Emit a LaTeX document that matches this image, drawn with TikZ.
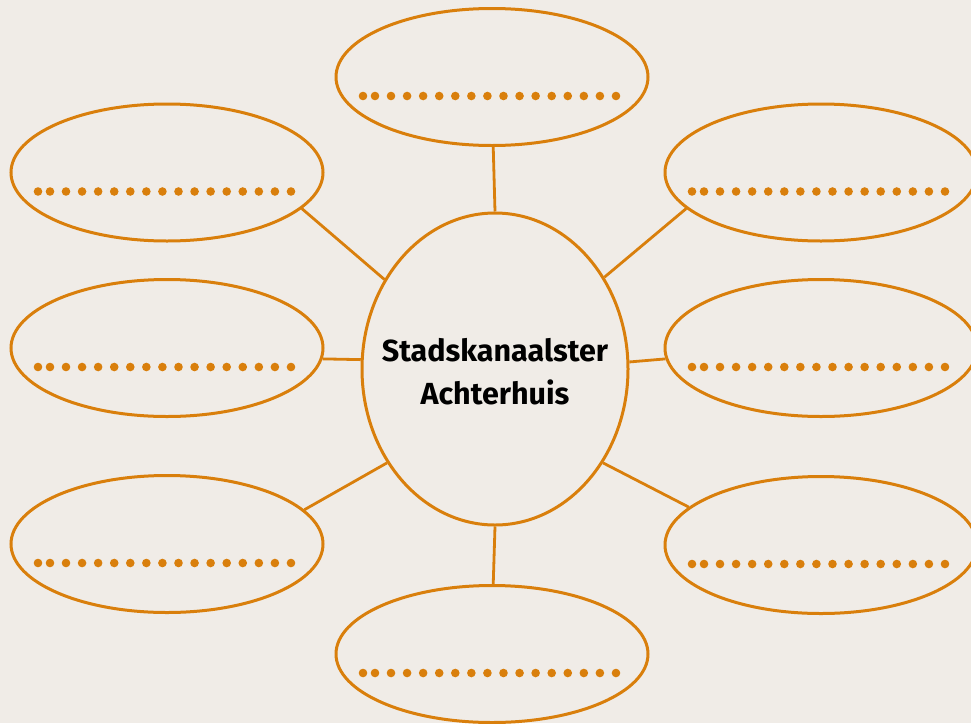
\documentclass[tikz,border=0pt]{standalone}
\usepackage{fontspec}
\setmainfont{Fira Sans}
\usetikzlibrary{shapes.geometric,calc}
\definecolor{bg}{RGB}{240,236,231}
\definecolor{orng}{RGB}{217,127,12}
\newcommand\dotrow[1]{%
  \fill[orng] ($(#1.center)+(-129,19)$) circle[radius=4.3pt];
  \fill[orng] ($(#1.center)+(-117,19)$) circle[radius=4.3pt];
  \foreach \k in {0,...,14}{\fill[orng] ($(#1.center)+(-101+16.07*\k,19)$) circle[radius=4.3pt];}%
}
\begin{document}
\begin{tikzpicture}[x=1pt,y=-1pt,
  bubble/.style={ellipse, draw=orng, line width=3pt, minimum width=312pt, minimum height=137pt, inner sep=0pt},
  hub/.style={ellipse, draw=orng, line width=3pt, minimum width=266pt, minimum height=312pt, inner sep=0pt},
  hubtext/.style={align=center, inner sep=0pt, font=\bfseries\fontsize{30.5}{43}\selectfont},
  link/.style={draw=orng, line width=2.8pt}]
\fill[bg] (0,0) rectangle (971,723);
\useasboundingbox (0,0) rectangle (971,723);

\node[hub] (c) at (495,369) {};
\node[hubtext] (ct) at (495,372) {Stadskanaalster\\Achterhuis};

\node[bubble] (t)  at (492,77) {};
\node[bubble] (b)  at (492,654) {};
\node[bubble] (tl) at (167,172.5) {};
\node[bubble] (ml) at (167,348) {};
\node[bubble] (bl) at (167,544) {};
\node[bubble] (tr) at (821,172.5) {};
\node[bubble] (mr) at (821,348) {};
\node[bubble] (br) at (821,545) {};

\dotrow{t}\dotrow{b}\dotrow{tl}\dotrow{ml}\dotrow{bl}\dotrow{tr}\dotrow{mr}\dotrow{br}

\draw[link] (t.-89.5) -- (c.90);
\draw[link] (b.89.5) -- (c.-90);
\draw[link] (tl.-15.9) -- (c.141);
\draw[link] (tr.-165.2) -- (c.40.4);
\draw[link] (ml.-4.8) -- (c.176.6);
\draw[link] (mr.184.8) -- (c.3.5);
\draw[link] (bl.14.6) -- (c.221.3);
\draw[link] (br.164.9) -- (c.-41.6);
\end{tikzpicture}
\end{document}
